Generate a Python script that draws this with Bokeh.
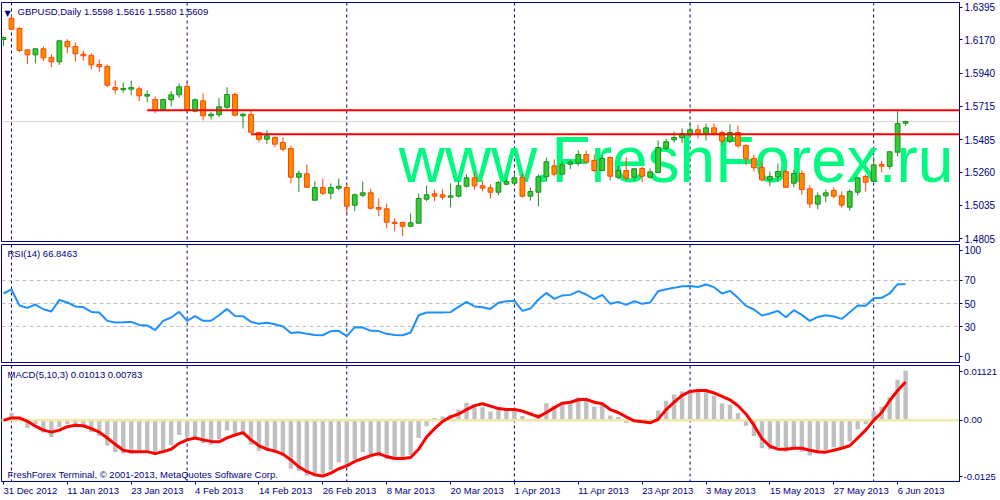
import pandas as pd
from bokeh.plotting import figure
from bokeh.layouts import column
from bokeh.models import ColumnDataSource, FixedTicker, Span, Label, PrintfTickFormatter, Range1d
from bokeh.embed import file_html
from bokeh.resources import INLINE

# ---------------- data ----------------
symbol = "GBPUSD"
timeframe = "Daily"

opens = [1.6173, 1.6319, 1.6249, 1.6102, 1.6068, 1.6109, 1.6049, 1.6020, 1.6159, 1.6125,
         1.6072, 1.6063, 1.6001, 1.5988, 1.5843, 1.5828, 1.5832, 1.5834, 1.5784, 1.5761,
         1.5690, 1.5759, 1.5793, 1.5850, 1.5681, 1.5752, 1.5649, 1.5656, 1.5708, 1.5795,
         1.5649, 1.5658, 1.5534, 1.5488, 1.5500, 1.5466, 1.5424, 1.5227, 1.5250, 1.5069,
         1.5156, 1.5117, 1.5152, 1.5156, 1.5035, 1.5103, 1.5120, 1.5019, 1.5010, 1.4918,
         1.4916, 1.4890, 1.4911, 1.5076, 1.5113, 1.5106, 1.5090, 1.5097, 1.5165, 1.5223,
         1.5168, 1.5154, 1.5124, 1.5179, 1.5186, 1.5225, 1.5097, 1.5124, 1.5230, 1.5305,
         1.5248, 1.5316, 1.5323, 1.5383, 1.5342, 1.5273, 1.5362, 1.5227, 1.5273, 1.5227,
         1.5287, 1.5227, 1.5259, 1.5426, 1.5484, 1.5498, 1.5518, 1.5553, 1.5527, 1.5566,
         1.5534, 1.5474, 1.5534, 1.5445, 1.5356, 1.5294, 1.5209, 1.5230, 1.5266, 1.5186,
         1.5253, 1.5147, 1.5042, 1.5099, 1.5136, 1.5099, 1.5021, 1.5124, 1.5232, 1.5200,
         1.5314, 1.5301, 1.5399, 1.5598]
highs = [1.6194, 1.6338, 1.6258, 1.6104, 1.6111, 1.6125, 1.6070, 1.6166, 1.6175, 1.6152,
         1.6098, 1.6079, 1.6036, 1.6001, 1.5891, 1.5878, 1.5891, 1.5850, 1.5823, 1.5782,
         1.5766, 1.5818, 1.5871, 1.5873, 1.5768, 1.5804, 1.5674, 1.5770, 1.5845, 1.5809,
         1.5670, 1.5685, 1.5539, 1.5550, 1.5507, 1.5500, 1.5445, 1.5273, 1.5314, 1.5198,
         1.5218, 1.5184, 1.5218, 1.5182, 1.5115, 1.5198, 1.5149, 1.5081, 1.5046, 1.4945,
         1.4922, 1.4978, 1.5115, 1.5170, 1.5143, 1.5145, 1.5184, 1.5200, 1.5246, 1.5261,
         1.5204, 1.5177, 1.5200, 1.5218, 1.5250, 1.5250, 1.5156, 1.5246, 1.5362, 1.5349,
         1.5335, 1.5344, 1.5411, 1.5411, 1.5383, 1.5378, 1.5369, 1.5307, 1.5364, 1.5287,
         1.5299, 1.5287, 1.5479, 1.5493, 1.5541, 1.5562, 1.5601, 1.5587, 1.5596, 1.5596,
         1.5548, 1.5591, 1.5582, 1.5452, 1.5383, 1.5330, 1.5266, 1.5321, 1.5280, 1.5280,
         1.5275, 1.5172, 1.5122, 1.5143, 1.5156, 1.5129, 1.5143, 1.5232, 1.5246, 1.5367,
         1.5340, 1.5404, 1.5681, 1.5616]
lows = [1.6128, 1.6238, 1.6086, 1.6006, 1.6010, 1.6024, 1.5983, 1.5999, 1.6079, 1.6022,
        1.6029, 1.5967, 1.5953, 1.5845, 1.5797, 1.5807, 1.5790, 1.5749, 1.5742, 1.5667,
        1.5685, 1.5713, 1.5773, 1.5685, 1.5672, 1.5617, 1.5624, 1.5639, 1.5694, 1.5644,
        1.5562, 1.5534, 1.5466, 1.5454, 1.5433, 1.5404, 1.5184, 1.5124, 1.5157, 1.5066,
        1.5103, 1.5076, 1.5136, 1.4978, 1.4994, 1.5090, 1.5005, 1.4959, 1.4877, 1.4856,
        1.4822, 1.4884, 1.4908, 1.5062, 1.5062, 1.5072, 1.5021, 1.5086, 1.5156, 1.5141,
        1.5131, 1.5081, 1.5103, 1.5172, 1.5172, 1.5088, 1.5067, 1.5026, 1.5196, 1.5232,
        1.5244, 1.5282, 1.5305, 1.5328, 1.5261, 1.5266, 1.5204, 1.5213, 1.5204, 1.5198,
        1.5193, 1.5216, 1.5255, 1.5415, 1.5466, 1.5463, 1.5516, 1.5493, 1.5479, 1.5514,
        1.5448, 1.5461, 1.5429, 1.5310, 1.5266, 1.5198, 1.5165, 1.5196, 1.5152, 1.5158,
        1.5106, 1.5014, 1.5007, 1.5055, 1.5083, 1.5017, 1.4998, 1.5101, 1.5129, 1.5193,
        1.5261, 1.5282, 1.5371, 1.5580]
closes = [1.6187, 1.6244, 1.6098, 1.6068, 1.6109, 1.6047, 1.6020, 1.6164, 1.6123, 1.6075,
          1.6061, 1.5999, 1.5986, 1.5859, 1.5828, 1.5836, 1.5843, 1.5786, 1.5795, 1.5690,
          1.5761, 1.5793, 1.5848, 1.5690, 1.5759, 1.5649, 1.5660, 1.5711, 1.5795, 1.5653,
          1.5660, 1.5536, 1.5488, 1.5512, 1.5454, 1.5419, 1.5227, 1.5253, 1.5158, 1.5156,
          1.5117, 1.5156, 1.5165, 1.5028, 1.5106, 1.5120, 1.5014, 1.5007, 1.4918, 1.4909,
          1.4890, 1.4914, 1.5081, 1.5106, 1.5097, 1.5090, 1.5099, 1.5168, 1.5223, 1.5168,
          1.5152, 1.5124, 1.5191, 1.5198, 1.5223, 1.5097, 1.5129, 1.5230, 1.5333, 1.5248,
          1.5312, 1.5330, 1.5383, 1.5330, 1.5273, 1.5356, 1.5234, 1.5273, 1.5220, 1.5285,
          1.5234, 1.5264, 1.5431, 1.5470, 1.5500, 1.5527, 1.5553, 1.5529, 1.5566, 1.5529,
          1.5476, 1.5534, 1.5443, 1.5354, 1.5292, 1.5209, 1.5232, 1.5266, 1.5158, 1.5253,
          1.5143, 1.5044, 1.5099, 1.5120, 1.5097, 1.5035, 1.5129, 1.5223, 1.5193, 1.5312,
          1.5303, 1.5402, 1.5596, 1.5609]

rsi = [58.7, 62.2, 48.3, 46.2, 49.1, 45.0, 43.0, 53.1, 50.9, 47.4,
       46.8, 42.7, 42.2, 34.9, 33.5, 33.7, 34.0, 31.4, 30.9, 26.8,
       34.9, 37.8, 42.7, 34.9, 39.0, 34.9, 35.0, 39.8, 45.3, 39.2,
       39.0, 34.0, 32.3, 33.2, 32.0, 30.0, 24.4, 25.0, 23.6, 22.7,
       22.4, 25.9, 26.2, 21.6, 29.4, 29.1, 26.2, 26.0, 23.6, 22.7,
       22.4, 24.8, 39.8, 42.2, 42.2, 42.2, 42.5, 47.1, 51.4, 47.4,
       46.8, 45.3, 50.6, 52.0, 52.3, 43.6, 45.6, 53.5, 59.2, 54.0,
       57.0, 57.5, 60.7, 57.8, 53.7, 57.5, 49.7, 51.4, 48.8, 52.0,
       49.7, 50.9, 60.7, 62.4, 63.6, 65.0, 65.3, 64.4, 66.5, 64.2,
       58.7, 61.0, 54.9, 47.9, 44.8, 39.6, 41.3, 43.6, 38.1, 44.2,
       40.1, 34.9, 38.3, 39.8, 38.7, 36.6, 42.4, 48.3, 48.0, 54.6,
       54.9, 58.7, 66.8, 66.8463]

macd_main = [0.0003, 0.00155, 0.0003, -0.00155, -0.0008, -0.0025, -0.0034, -0.00135, -0.0008, -0.0011,
             -0.0011, -0.0024, -0.0032, -0.0052, -0.0065, -0.0068, -0.0068, -0.0062, -0.0062, -0.0071,
             -0.0063, -0.0051, -0.0030, -0.0035, -0.0038, -0.0047, -0.0050, -0.0038, -0.0020, -0.0027,
             -0.0030, -0.0050, -0.0062, -0.0062, -0.0068, -0.0073, -0.0099, -0.0103, -0.0113, -0.0115,
             -0.0113, -0.0101, -0.0086, -0.0095, -0.0080, -0.0065, -0.0069, -0.0074, -0.0079, -0.0078,
             -0.0079, -0.0071, -0.0036, -0.0012, 0.0005, 0.0008, 0.0011, 0.0022, 0.0036, 0.0030,
             0.0027, 0.0018, 0.0022, 0.0022, 0.0020, 0.0009, 0.0003, 0.0013, 0.0035, 0.0030,
             0.0038, 0.0037, 0.0047, 0.0042, 0.0028, 0.0032, 0.0010, 0.0007, -0.0005, -0.0002,
             -0.0003, 0.0001, 0.0020, 0.0040, 0.0053, 0.0059, 0.0062, 0.0059, 0.0059, 0.0051,
             0.0035, 0.0032, 0.0015, -0.0011, -0.0032, -0.0057, -0.0059, -0.0055, -0.0064, -0.0057,
             -0.0064, -0.0072, -0.0068, -0.0061, -0.0055, -0.0055, -0.0043, -0.0018, -0.0008, 0.0019,
             0.0028, 0.0047, 0.0083, 0.01013]
macd_signal = [0.0000, 0.0005, 0.0005, -0.0002, -0.0012, -0.0020, -0.0024, -0.0020, -0.0013, -0.0010,
               -0.0011, -0.0017, -0.0024, -0.0036, -0.0049, -0.0061, -0.0064, -0.0064, -0.0064, -0.0068,
               -0.0064, -0.0059, -0.0047, -0.0040, -0.0036, -0.0040, -0.0043, -0.0044, -0.0036, -0.0030,
               -0.0025, -0.0040, -0.0052, -0.0059, -0.0063, -0.0069, -0.0081, -0.0095, -0.0105, -0.0111,
               -0.0114, -0.0108, -0.0099, -0.0093, -0.0084, -0.0078, -0.0072, -0.0068, -0.0074, -0.0078,
               -0.0078, -0.0076, -0.0059, -0.0034, -0.0017, -0.0002, 0.0007, 0.0013, 0.0022, 0.0030,
               0.0034, 0.0029, 0.0024, 0.0022, 0.0022, 0.0019, 0.0013, 0.0007, 0.0016, 0.0026,
               0.0035, 0.0037, 0.0042, 0.0043, 0.0037, 0.0034, 0.0022, 0.0016, 0.0007, -0.0001,
               -0.0003, -0.0005, 0.0002, 0.0022, 0.0037, 0.0051, 0.0059, 0.0061, 0.0061, 0.0056,
               0.0049, 0.0042, 0.0030, 0.0013, -0.0010, -0.0037, -0.0053, -0.0059, -0.0059, -0.0057,
               -0.0057, -0.0061, -0.0064, -0.0065, -0.0061, -0.0057, -0.0052, -0.0036, -0.0020, 0.0000,
               0.0016, 0.0040, 0.0061, 0.00783]

price_ticks = [1.4805, 1.5035, 1.5260, 1.5485, 1.5715, 1.5940, 1.6170, 1.6395]
rsi_levels = [30, 50, 70]
date_tick_labels = ["31 Dec 2012", "11 Jan 2013", "23 Jan 2013", "4 Feb 2013", "14 Feb 2013",
                    "26 Feb 2013", "8 Mar 2013", "20 Mar 2013", "1 Apr 2013", "11 Apr 2013",
                    "23 Apr 2013", "3 May 2013", "15 May 2013", "27 May 2013", "6 Jun 2013"]
trend_prices = [1.5687, 1.5522]
trend_start_dates = ["25 Jan 2013", "13 Feb 2013"]

# trading days shown (weekdays, no bar on 1 Jan)
dates = [d for d in pd.bdate_range("2012-12-31", "2013-06-07") if d != pd.Timestamp("2013-01-01")]
n = len(dates)
idx = list(range(n))
month_starts = [i for i in range(1, n) if dates[i].month != dates[i - 1].month]
date_tick_pos = [dates.index(pd.Timestamp(lbl)) for lbl in date_tick_labels]
trend_start = [dates.index(pd.Timestamp(s)) for s in trend_start_dates]

# ---------------- styling ----------------
NAVY = "#000080"
FONT = "Liberation Sans"
BULL_FILL, BULL_LINE = "#32CD32", "#1E8C1E"
BEAR_FILL, BEAR_LINE = "#FF8C00", "#FF4500"
FW = 958

x_range = Range1d(-0.25, 119.75)


def make_fig(fh, y_range, top, bottom, label_size="10px", standoff=2, xaxis=False):
    p = figure(frame_width=FW, frame_height=fh, x_range=x_range, y_range=y_range,
               y_axis_location="right", x_axis_location="below" if xaxis else None,
               output_backend="svg", toolbar_location=None,
               min_border_left=1, min_border_top=top, min_border_bottom=bottom, min_border_right=0,
               background_fill_color="white", border_fill_color="white")
    p.grid.visible = False
    p.outline_line_color = NAVY
    p.outline_line_width = 1
    ax = p.yaxis[0]
    ax.axis_line_color = NAVY
    ax.major_tick_line_color = NAVY
    ax.minor_tick_line_color = None
    ax.major_tick_out = 3
    ax.major_tick_in = 0
    ax.major_label_standoff = standoff
    ax.major_label_text_color = NAVY
    ax.major_label_text_font = FONT
    ax.major_label_text_font_size = label_size
    for m in month_starts:
        p.add_layout(Span(location=m, dimension="height", line_color=NAVY, line_width=1,
                          line_dash="3 3", level="underlay"))
    return p


def title_label(p, text, y_range, xoff=6):
    p.add_layout(Label(x=x_range.start, y=y_range.end, x_offset=xoff, y_offset=-3, text=text,
                       text_baseline="top", text_align="left", text_font=FONT,
                       text_font_size="9.5px", text_color=NAVY))


# ---------------- main price panel ----------------
y_price = Range1d(1.47853, 1.64273)
p1 = make_fig(239, y_price, top=2, bottom=3)
p1.yaxis[0].ticker = FixedTicker(ticks=price_ticks)
p1.yaxis[0].formatter = PrintfTickFormatter(format="%.4f")

p1.add_layout(Label(x=49.5, y=1.5191, y_offset=22, text="www.FreshForex.ru", text_font=FONT,
                    text_font_size="64px", text_color="#00FA80", text_baseline="middle",
                    level="underlay"))
p1.add_layout(Span(location=closes[-1], dimension="width", line_color="#D3D3D3",
                   line_width=1, level="underlay"))

up = [c >= o for o, c in zip(opens, closes)]
src = ColumnDataSource(dict(
    x=idx, h=highs, l=lows,
    top=[max(o, c) for o, c in zip(opens, closes)],
    bottom=[min(o, c) for o, c in zip(opens, closes)],
    fill=[BULL_FILL if u else BEAR_FILL for u in up],
    line=[BULL_LINE if u else BEAR_LINE for u in up],
))
p1.segment(x0="x", y0="h", x1="x", y1="l", line_color="line", line_width=1, source=src)
p1.vbar(x="x", top="top", bottom="bottom", width=0.6, fill_color="fill", line_color="line",
        line_width=1, source=src)

p1.segment(x0=trend_start, y0=trend_prices, x1=[x_range.end + 5] * len(trend_prices),
           y1=trend_prices, line_color="#FF0000", line_width=2)

title_label(p1, f"{symbol},{timeframe} {opens[-1]:.4f} {highs[-1]:.4f} {lows[-1]:.4f} {closes[-1]:.4f}",
            y_price, xoff=16)
p1.add_layout(Label(x=x_range.start, y=y_price.end, x_offset=3, y_offset=-6, text="\u25bc",
                    text_baseline="top", text_font="DejaVu Sans", text_font_size="8px",
                    text_color=NAVY))
p1.add_layout(Label(x=x_range.end, y=closes[-1], x_offset=1, text=f"{closes[-1]:.4f}",
                    text_baseline="middle", text_align="left", text_font=FONT,
                    text_font_size="10px", text_color="white", background_fill_color=NAVY,
                    padding=2))

# ---------------- RSI panel ----------------
y_rsi = Range1d(-1.3, 101.3)
p2 = make_fig(118, y_rsi, top=0, bottom=2)
rsi_hi_tick = 96.1
rsi_lo_tick = 3.9
p2.yaxis[0].ticker = FixedTicker(ticks=[rsi_lo_tick] + rsi_levels + [rsi_hi_tick])
p2.yaxis[0].major_label_overrides = {rsi_lo_tick: "0", rsi_hi_tick: "100",
                                     30: "30", 50: "50", 70: "70"}
for lv in rsi_levels:
    p2.add_layout(Span(location=lv, dimension="width", line_color="#C0C0C0", line_width=1,
                       line_dash="4 3", level="underlay"))
p2.line(idx, rsi, line_color="#1E90FF", line_width=2)
title_label(p2, f"RSI(14) {rsi[-1]:.4f}", y_rsi)

# ---------------- MACD panel ----------------
y_macd = Range1d(-0.0125, 0.01121)
p3 = make_fig(116, y_macd, top=1, bottom=16, label_size="9.5px", standoff=1, xaxis=True)
macd_hi_tick = 0.00998
macd_lo_tick = -0.01148
p3.yaxis[0].ticker = FixedTicker(ticks=[macd_lo_tick, 0, macd_hi_tick])
p3.yaxis[0].major_label_overrides = {macd_lo_tick: "-0.0125", 0: "0.00", macd_hi_tick: "0.01121"}

p3.vbar(x=idx, top=macd_main, bottom=0, width=0.55, fill_color="#C0C0C0", line_color=None)
p3.segment(x0=[x_range.start - 5], y0=[0], x1=[x_range.end + 5], y1=[0],
           line_color="#EEE8AA", line_width=2.5)
p3.line(idx, macd_signal, line_color="#FF0000", line_width=3)

title_label(p3, f"MACD(5,10,3) {macd_main[-1]:.5f} {macd_signal[-1]:.5f}", y_macd)
p3.add_layout(Label(x=x_range.start, y=y_macd.start, x_offset=6, y_offset=2,
                    text="FreshForex Terminal, \u00a9 2001-2013, MetaQuotes Software Corp.",
                    text_baseline="bottom", text_font=FONT, text_font_size="9.5px",
                    text_color=NAVY))

xa = p3.xaxis[0]
xa.ticker = FixedTicker(ticks=date_tick_pos)
xa.major_label_overrides = {p: l for p, l in zip(date_tick_pos, date_tick_labels)}
xa.major_label_orientation = -0.00001   # numeric angle -> labels start at their tick
xa.axis_line_color = NAVY
xa.major_tick_line_color = NAVY
xa.minor_tick_line_color = None
xa.major_tick_out = 3
xa.major_tick_in = 0
xa.major_label_standoff = 6
xa.major_label_text_color = NAVY
xa.major_label_text_font = FONT
xa.major_label_text_font_size = "9.5px"

layout = column(p1, p2, p3, spacing=0)
open("out.html", "w").write(file_html(layout, INLINE))
